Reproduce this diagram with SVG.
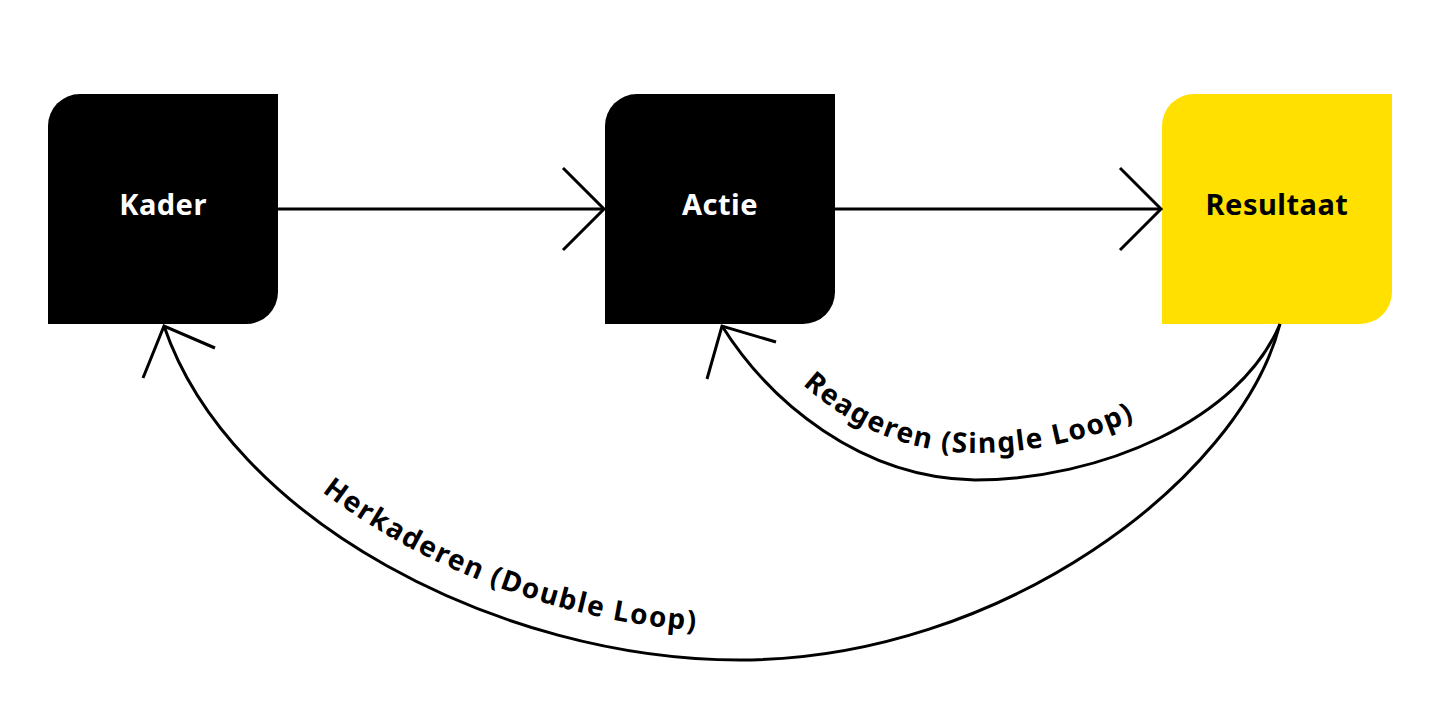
<svg xmlns="http://www.w3.org/2000/svg" width="1440" height="720" viewBox="0 0 1440 720">
<style>
.node-label{font-family:"Noto Sans","Liberation Sans",sans-serif;font-weight:700;font-size:29px;text-anchor:middle;letter-spacing:0.5px}
.edge-label{font-family:"Noto Sans","Liberation Sans",sans-serif;font-weight:700;font-size:28px;letter-spacing:1.6px;fill:#000}
.line{fill:none;stroke:#000;stroke-width:3}
</style>
<defs>
<path id="tpInner" d="M748,316 C790,392 875,453 975,453 C1090,453 1215,400 1252,316"/>
<path id="tpOuter" d="M175,300 C240,492 500,632 740,632 C990,632 1210,470 1250,320"/>
</defs>
<rect width="1440" height="720" fill="#fff"/>
<g id="kader">
<path d="M80,94 H278 V292 A32,32 0 0 1 246,324 H48 V126 A32,32 0 0 1 80,94 Z" fill="#000"/>
<text class="node-label" x="163" y="215" fill="#fff">Kader</text>
</g>
<g id="actie">
<path d="M637,94 H835 V292 A32,32 0 0 1 803,324 H605 V126 A32,32 0 0 1 637,94 Z" fill="#000"/>
<text class="node-label" x="720" y="215" fill="#fff">Actie</text>
</g>
<g id="resultaat">
<path d="M1194,94 H1392 V292 A32,32 0 0 1 1360,324 H1162 V126 A32,32 0 0 1 1194,94 Z" fill="#FFE000"/>
<text class="node-label" x="1277" y="215" fill="#000">Resultaat</text>
</g>
<g id="connectors">
<line class="line" x1="278" y1="209" x2="603" y2="209"/>
<polyline class="line" points="563,168 604,209 563,250"/>
<line class="line" x1="835" y1="209" x2="1160" y2="209"/>
<polyline class="line" points="1120,168 1161,209 1120,250"/>
<path class="line" d="M722,326 C770,402 860,478 975,480 C1100,480 1240,420 1280,324"/>
<polyline class="line" points="707,379 722,326 776,342"/>
<path class="line" d="M164,326 C230,520 500,660 740,660 C1000,660 1240,480 1280,324"/>
<polyline class="line" points="143,378 164,326 215,348"/>
<text class="edge-label"><textPath href="#tpInner" startOffset="88">Reageren (Single Loop)</textPath></text>
<text class="edge-label"><textPath href="#tpOuter" startOffset="245">Herkaderen (Double Loop)</textPath></text>
</g>
</svg>
